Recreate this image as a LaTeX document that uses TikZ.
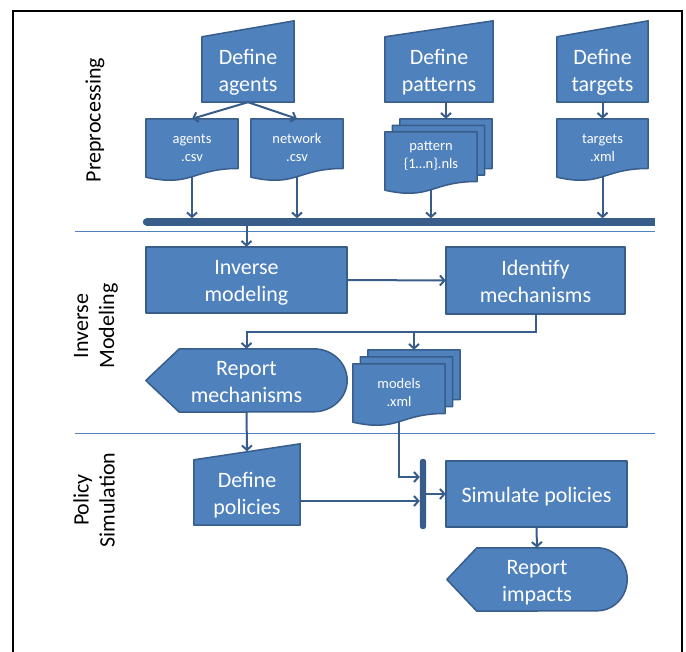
\documentclass[tikz,border=0pt]{standalone}
\usepackage{fontspec}
\setmainfont{Carlito}
\usetikzlibrary{arrows.meta,backgrounds}

\definecolor{boxfill}{HTML}{4F81BD}
\definecolor{boxline}{HTML}{385D8A}

\begin{document}
\begin{tikzpicture}[x=1pt, y=-1pt,
  shapeline/.style={draw=boxline, fill=boxfill, line width=1.5pt, line join=round},
  big/.style={inner sep=0pt, text=white, align=center, font=\fontsize{22}{27}\selectfont, text height=44pt, text depth=0pt},
  small/.style={inner sep=0pt, text=white, align=center, font=\fontsize{14.5}{18}\selectfont, minimum width=92pt, minimum height=58pt},
  lane/.style={rotate=90, align=center, font=\fontsize{22}{26}\selectfont},
  flow/.style={draw=boxline, line width=2pt, -{Straight Barb[length=4.5pt,width=10pt]}},
  sync/.style={inner sep=0pt},
]
\useasboundingbox (0,0) rectangle (686,652);

% frame and lanes
\draw[line width=2pt] (13,652) -- (13,11) -- (682,11) -- (682,652);
\foreach \y in {232,434} \draw[boxfill, line width=1pt] (75,\y) -- (655,\y);
\node[lane] (lpre) at (95,120) {Preprocessing};
\node[lane] (linv) at (96,326) {Inverse\\Modeling};
\node[lane] (lpol) at (94,500) {Policy\\Simulation};

% preprocessing
\node[big, minimum width=92pt, minimum height=65pt] (defagents) at (248,69.5) {Define\\agents};
\node[big, minimum width=108pt, minimum height=65pt] (defpat) at (439,69.5) {Define\\patterns};
\node[big, minimum width=91pt, minimum height=65pt] (deftar) at (602.5,69.5) {Define\\targets};
\node[small] (agcsv) at (192,148) {agents\\.csv};
\node[small] (netcsv) at (297,148) {network\\.csv};
\node[small, text depth=12pt] (patnls) at (431,161) {pattern\\\{1…n\}.nls};
\node[small] (patnls-1) at (438.5,154.5) {};
\node[small] (patnls-2) at (446,148) {};
\node[small, minimum width=91pt] (tarxml) at (602.5,148) {targets\\.xml};
\node[sync, minimum width=512pt, minimum height=7pt] (bar1) at (399,222) {};

% inverse modeling
\node[big, minimum width=201pt, minimum height=66pt] (invmod) at (246.5,280) {Inverse\\modeling};
\node[big, minimum width=179pt, minimum height=67pt] (idmech) at (535.5,280.5) {Identify\\mechanisms};
\node[big, minimum width=201pt, minimum height=63pt] (repmech) at (246.5,380.5) {Report\\mechanisms};
\node[small] (mdlxml) at (399,393) {models\\.xml};
\node[small] (mdlxml-1) at (406.5,386) {};
\node[small] (mdlxml-2) at (414,379) {};

% policy simulation
\node[big, minimum width=106pt, minimum height=65pt] (defpol) at (247,492.5) {Define\\policies};
\node[sync, minimum width=6pt, minimum height=70pt] (bar2) at (423,494) {};
\node[big, text height=17pt, minimum width=181pt, minimum height=66pt] (simpol) at (536.5,494) {Simulate policies};
\node[big, minimum width=180pt, minimum height=63pt] (repimp) at (537,579.5) {Report\\impacts};

% shapes behind the text
\begin{pgfonlayer}{background}
\foreach \n in {defagents,defpat,deftar,defpol}
  \draw[shapeline] (\n.south west) -- (\n.north west) -- ([yshift=16pt]\n.north east) -- (\n.south east) -- cycle;
\foreach \n in {agcsv,netcsv,patnls-2,patnls-1,patnls,tarxml,mdlxml-2,mdlxml-1,mdlxml}
  \draw[shapeline] (\n.north west) -- (\n.north east) -- ([yshift=-49.7pt]\n.north east)
    .. controls ([yshift=-49.7pt]\n.north) and ([yshift=-68.7pt]\n.north) .. (\n.south west) -- cycle;
\foreach \n in {invmod,idmech,simpol} \draw[shapeline] (\n.north west) rectangle (\n.south east);
\draw[shapeline] (repmech.west) -- ([xshift=33.5pt]repmech.north west) -- ([xshift=-33.5pt]repmech.north east)
  arc[start angle=90, end angle=-90, x radius=33.5pt, y radius=31.5pt] -- ([xshift=33.5pt]repmech.south west) -- cycle;
\draw[shapeline] (repimp.west) -- ([xshift=30pt]repimp.north west) -- ([xshift=-30pt]repimp.north east)
  arc[start angle=90, end angle=-90, x radius=30pt, y radius=31.5pt] -- ([xshift=30pt]repimp.south west) -- cycle;
\fill[boxline] ([xshift=3.5pt]bar1.north west) rectangle (bar1.south east);
\fill[boxline] ([xshift=3.5pt]bar1.west) circle[radius=3.5pt];
\fill[boxline, rounded corners=3pt] (bar2.north west) rectangle (bar2.south east);
\end{pgfonlayer}

% connectors
\draw[flow] (defagents.south) -- (agcsv.north);
\draw[flow] (defagents.south) -- (netcsv.north);
\draw[flow] (defpat.south -| patnls-2.north) -- (patnls-2.north);
\draw[flow] (deftar.south) -- (tarxml.north);
\foreach \n in {agcsv,netcsv,patnls,tarxml} \draw[flow] (\n.south) -- (\n.south |- bar1.north);
\draw[flow] (invmod.north |- bar1.south) -- (invmod.north);
\draw[flow] (invmod.east) -- (idmech.west);
\draw[flow] (idmech.south) -- ++(0,18) coordinate (fork) -| (repmech.north);
\draw[flow] (fork -| mdlxml-2.north) -- (mdlxml-2.north);
\draw[flow] (repmech.south) -- ([yshift=8.5pt]defpol.north);
\draw[flow] (mdlxml.south) |- ([yshift=17pt]bar2.west);
\coordinate (polout) at ([yshift=-8.5pt]defpol.east);
\draw[flow] (polout) -- (polout -| bar2.west);
\draw[flow] (bar2.east) -- (simpol.west);
\draw[flow] (simpol.south) -- (repimp.north);
\end{tikzpicture}
\end{document}
